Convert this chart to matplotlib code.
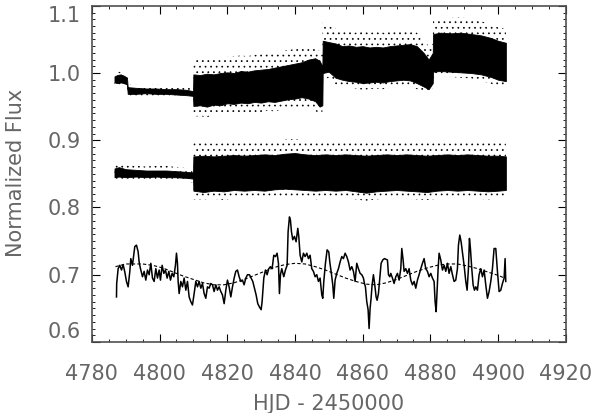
import numpy as np
import matplotlib
matplotlib.use("Agg")
import matplotlib.pyplot as plt
from matplotlib.ticker import MultipleLocator

# upper light curve (flux ~1.0): envelope of the dense point cloud
top_x = [4786.7, 4787.5, 4788.5, 4789.5, 4790.4, 4790.6, 4793, 4796, 4799, 4802,
         4805, 4808, 4809.9, 4810.0, 4812, 4814, 4816, 4818, 4820, 4822, 4824,
         4826, 4828, 4830, 4832, 4834, 4836, 4838, 4840, 4842, 4844, 4846,
         4847.3, 4848.1, 4848.2, 4850, 4852, 4854, 4856, 4858, 4860, 4862,
         4864, 4866, 4868, 4870, 4872, 4874, 4876, 4878, 4879.5, 4880.7,
         4880.8, 4883, 4886, 4889, 4892, 4895, 4898, 4900, 4902.3]
top_core_lo = [0.986, 0.985, 0.986, 0.985, 0.983, 0.969, 0.969, 0.970, 0.969, 0.969,
               0.968, 0.967, 0.966, 0.951, 0.952, 0.950, 0.953, 0.952, 0.955, 0.954, 0.956,
               0.955, 0.957, 0.956, 0.958, 0.957, 0.959, 0.961, 0.962, 0.964, 0.962, 0.958,
               0.950, 0.952, 1.000, 1.002, 0.993, 0.990, 0.988, 0.987, 0.985, 0.986,
               0.987, 0.986, 0.988, 0.989, 0.990, 0.989, 0.985, 0.980, 0.976, 0.985,
               1.002, 1.003, 1.002, 1.001, 1.000, 0.998, 0.994, 0.990, 0.988]
top_core_hi = [0.995, 0.997, 0.998, 0.996, 0.993, 0.979, 0.978, 0.977, 0.977, 0.976,
               0.976, 0.975, 0.973, 0.998, 0.997, 0.999, 0.998, 1.000, 1.001, 1.000, 1.003,
               1.002, 1.004, 1.005, 1.006, 1.008, 1.010, 1.012, 1.014, 1.016, 1.020, 1.022,
               1.018, 1.010, 1.048, 1.046, 1.044, 1.040, 1.041, 1.039, 1.040, 1.038,
               1.039, 1.038, 1.040, 1.041, 1.042, 1.043, 1.040, 1.030, 1.020, 1.030,
               1.058, 1.060, 1.059, 1.060, 1.058, 1.056, 1.052, 1.048, 1.045]
top_edge_lo = [0.981, 0.981, 0.982, 0.981, 0.979, 0.966, 0.965, 0.966, 0.964, 0.964,
               0.963, 0.962, 0.962, 0.935, 0.936, 0.934, 0.938, 0.937, 0.940, 0.939, 0.941,
               0.940, 0.942, 0.942, 0.944, 0.943, 0.945, 0.946, 0.948, 0.950, 0.948, 0.944,
               0.938, 0.940, 0.990, 0.993, 0.983, 0.980, 0.978, 0.977, 0.975, 0.976,
               0.977, 0.976, 0.978, 0.979, 0.980, 0.980, 0.976, 0.972, 0.970, 0.978,
               0.993, 0.995, 0.994, 0.993, 0.992, 0.988, 0.984, 0.980, 0.978]
top_edge_hi = [0.999, 1.001, 1.002, 1.000, 0.997, 0.984, 0.983, 0.982, 0.983, 0.982,
               0.982, 0.980, 0.978, 1.022, 1.021, 1.020, 1.022, 1.021, 1.024, 1.025, 1.026,
               1.025, 1.027, 1.028, 1.030, 1.031, 1.033, 1.034, 1.036, 1.037, 1.039, 1.040,
               1.032, 1.028, 1.075, 1.070, 1.066, 1.062, 1.063, 1.060, 1.062, 1.060,
               1.061, 1.060, 1.061, 1.062, 1.064, 1.065, 1.060, 1.050, 1.040, 1.045,
               1.078, 1.080, 1.082, 1.083, 1.080, 1.077, 1.072, 1.068, 1.066]

# middle light curve (flux ~0.85)
mid_x = [4786.7, 4788, 4790, 4793, 4796, 4799, 4802, 4805, 4808, 4809.9, 4810.0,
         4813, 4816, 4819, 4822, 4825, 4828, 4831, 4834, 4837, 4840, 4843, 4846,
         4849, 4852, 4855, 4858, 4861, 4864, 4867, 4870, 4873, 4876, 4879, 4882,
         4885, 4888, 4891, 4894, 4897, 4900, 4902.3]
mid_core_lo = [0.845, 0.846, 0.845, 0.846, 0.845, 0.846, 0.845, 0.845, 0.844, 0.843, 0.825,
               0.823, 0.825, 0.824, 0.826, 0.825, 0.826, 0.825, 0.827, 0.828, 0.827, 0.826, 0.825,
               0.826, 0.825, 0.826, 0.824, 0.822, 0.824, 0.825, 0.826, 0.825, 0.824, 0.823, 0.825,
               0.826, 0.825, 0.826, 0.825, 0.824, 0.825, 0.826]
mid_core_hi = [0.858, 0.860, 0.857, 0.856, 0.855, 0.855, 0.855, 0.854, 0.853, 0.852, 0.876,
               0.877, 0.876, 0.877, 0.878, 0.877, 0.878, 0.879, 0.878, 0.880, 0.881, 0.879, 0.878,
               0.879, 0.878, 0.879, 0.878, 0.877, 0.878, 0.879, 0.878, 0.879, 0.878, 0.877, 0.878,
               0.879, 0.878, 0.879, 0.878, 0.877, 0.877, 0.876]
mid_edge_lo = [0.838, 0.839, 0.838, 0.840, 0.839, 0.840, 0.839, 0.839, 0.838, 0.837, 0.812,
               0.812, 0.813, 0.811, 0.814, 0.813, 0.814, 0.813, 0.815, 0.816, 0.815, 0.814, 0.812,
               0.814, 0.813, 0.814, 0.812, 0.810, 0.812, 0.813, 0.814, 0.813, 0.812, 0.811, 0.813,
               0.814, 0.813, 0.814, 0.813, 0.812, 0.813, 0.814]
mid_edge_hi = [0.864, 0.866, 0.863, 0.862, 0.861, 0.862, 0.862, 0.860, 0.859, 0.857, 0.896,
               0.897, 0.895, 0.896, 0.898, 0.897, 0.899, 0.900, 0.899, 0.901, 0.902, 0.899, 0.898,
               0.900, 0.899, 0.898, 0.899, 0.898, 0.899, 0.900, 0.899, 0.898, 0.897, 0.898, 0.897,
               0.895, 0.896, 0.898, 0.897, 0.898, 0.897, 0.895]

# binned light curve (bottom)
lc_x = [4787.29, 4787.35, 4787.78, 4788.27, 4788.77, 4789.26, 4789.75, 4790.24, 4790.73,
        4791.23, 4791.52, 4792.01, 4792.70, 4793.20, 4793.69, 4793.98, 4794.38, 4794.97,
        4795.46, 4795.95, 4796.44, 4796.94, 4797.43, 4797.92, 4798.41, 4798.91, 4799.40,
        4799.89, 4800.28, 4800.78, 4801.27, 4801.76, 4802.25, 4802.75, 4803.24, 4803.73,
        4804.22, 4804.71, 4805.01, 4805.30, 4805.50, 4805.80, 4806.29, 4806.78, 4807.27,
        4807.77, 4808.26, 4808.75, 4809.24, 4809.73, 4810.23, 4810.72, 4811.21, 4811.70,
        4812.20, 4812.69, 4813.18, 4813.67, 4814.16, 4814.66, 4815.15, 4815.64, 4816.13,
        4816.63, 4817.12, 4817.61, 4818.10, 4818.59, 4819.09, 4819.58, 4820.07, 4820.56,
        4821.06, 4821.55, 4822.04, 4822.53, 4823.02, 4823.52, 4824.01, 4824.50, 4824.99,
        4825.49, 4825.98, 4826.56, 4827.05, 4827.55, 4828.04, 4828.53, 4829.02, 4829.52,
        4830.01, 4830.30, 4830.80, 4831.29, 4831.78, 4832.27, 4832.76, 4833.26, 4833.75,
        4834.24, 4834.73, 4835.13, 4835.42, 4835.72, 4836.11, 4836.70, 4837.19, 4837.69,
        4837.98, 4838.38, 4838.67, 4838.97, 4839.36, 4839.85, 4840.34, 4840.84, 4841.13,
        4841.53, 4842.02, 4842.51, 4843.00, 4843.50, 4843.99, 4844.48, 4844.97, 4845.46,
        4845.96, 4846.45, 4846.94, 4847.43, 4847.93, 4848.22, 4848.52, 4849.01, 4849.50,
        4849.99, 4850.29, 4850.68, 4851.17, 4851.47, 4851.86, 4852.35, 4852.85, 4853.34,
        4853.83, 4854.32, 4854.82, 4855.31, 4855.80, 4856.29, 4856.79, 4857.28, 4857.77,
        4858.26, 4858.75, 4859.25, 4859.74, 4860.23, 4860.53, 4860.82, 4861.21, 4861.61,
        4861.90, 4862.20, 4862.49, 4862.79, 4863.18, 4863.58, 4863.97, 4864.27, 4864.66,
        4865.05, 4865.45, 4865.94, 4866.43, 4867.32, 4867.62, 4868.01, 4868.31, 4868.80,
        4869.29, 4869.78, 4870.28, 4870.77, 4871.26, 4871.56, 4871.95, 4872.24, 4872.74,
        4873.23, 4873.72, 4874.21, 4874.71, 4875.20, 4875.69, 4876.18, 4876.67, 4877.17,
        4877.66, 4878.15, 4878.64, 4879.14, 4879.63, 4880.12, 4880.61, 4881.10, 4881.40,
        4881.70, 4881.99, 4882.29, 4882.58, 4883.07, 4883.57, 4884.06, 4884.55, 4885.04,
        4885.53, 4886.03, 4886.52, 4887.01, 4887.50, 4887.99, 4888.29, 4888.69, 4889.08,
        4889.47, 4889.96, 4890.46, 4890.85, 4891.24, 4891.54, 4891.83, 4892.23, 4892.62,
        4893.02, 4893.41, 4893.90, 4894.39, 4894.89, 4895.38, 4895.87, 4896.36, 4896.86,
        4897.35, 4897.84, 4898.33, 4898.82, 4899.32, 4899.81, 4900.30, 4900.79, 4901.29,
        4901.78, 4902.07, 4902.27]
lc_y = [0.667, 0.687, 0.709, 0.714, 0.707, 0.715, 0.704, 0.690, 0.682,
        0.705, 0.724, 0.714, 0.742, 0.744, 0.734, 0.719, 0.709, 0.697,
        0.705, 0.692, 0.707, 0.700, 0.717, 0.695, 0.690, 0.709, 0.695,
        0.707, 0.692, 0.714, 0.702, 0.707, 0.695, 0.705, 0.692, 0.702,
        0.697, 0.714, 0.732, 0.717, 0.690, 0.672, 0.690, 0.682, 0.695,
        0.677, 0.690, 0.667, 0.660, 0.655, 0.672, 0.690, 0.682, 0.690,
        0.680, 0.687, 0.672, 0.665, 0.682, 0.680, 0.687, 0.685, 0.675,
        0.685, 0.677, 0.682, 0.675, 0.670, 0.657, 0.677, 0.692, 0.682,
        0.667, 0.682, 0.695, 0.705, 0.707, 0.697, 0.690, 0.692, 0.685,
        0.695, 0.700, 0.700, 0.695, 0.690, 0.680, 0.670, 0.657, 0.652,
        0.648, 0.660, 0.695, 0.707, 0.700, 0.709, 0.712, 0.709, 0.729,
        0.727, 0.732, 0.717, 0.672, 0.700, 0.709, 0.697, 0.707, 0.714,
        0.764, 0.786, 0.781, 0.764, 0.752, 0.757, 0.749, 0.769, 0.757,
        0.729, 0.719, 0.732, 0.727, 0.732, 0.724, 0.729, 0.709, 0.705,
        0.697, 0.700, 0.690, 0.695, 0.670, 0.665, 0.690, 0.717, 0.737,
        0.734, 0.719, 0.705, 0.685, 0.665, 0.692, 0.702, 0.709, 0.719,
        0.727, 0.724, 0.732, 0.727, 0.719, 0.707, 0.712, 0.705, 0.690,
        0.717, 0.709, 0.702, 0.700, 0.695, 0.687, 0.682, 0.660, 0.648,
        0.620, 0.650, 0.665, 0.685, 0.700, 0.685, 0.667, 0.662, 0.672,
        0.695, 0.717, 0.722, 0.724, 0.722, 0.700, 0.697, 0.702, 0.695,
        0.687, 0.697, 0.702, 0.692, 0.709, 0.739, 0.722, 0.705, 0.709,
        0.702, 0.709, 0.692, 0.685, 0.690, 0.680, 0.692, 0.700, 0.709,
        0.717, 0.724, 0.709, 0.705, 0.697, 0.702, 0.695, 0.690, 0.660,
        0.645, 0.675, 0.709, 0.732, 0.722, 0.707, 0.714, 0.705, 0.717,
        0.702, 0.712, 0.700, 0.690, 0.692, 0.709, 0.744, 0.759, 0.749,
        0.734, 0.714, 0.690, 0.677, 0.709, 0.754, 0.739, 0.709, 0.685,
        0.677, 0.682, 0.677, 0.700, 0.709, 0.697, 0.707, 0.685, 0.665,
        0.675, 0.690, 0.709, 0.739, 0.739, 0.705, 0.675, 0.677, 0.687,
        0.695, 0.724, 0.690]

# sinusoidal fit drawn over the binned curve
fit_x = [4787, 4790, 4795, 4798, 4801, 4804, 4807, 4810, 4813, 4816, 4819, 4822,
         4825, 4828, 4831, 4834, 4837, 4840, 4843, 4846, 4849, 4852, 4855, 4858,
         4861, 4864, 4867, 4870, 4873, 4876, 4879, 4882, 4885, 4888, 4891, 4894,
         4897, 4900, 4902]
fit_y = [0.712, 0.716, 0.716, 0.714, 0.710, 0.704, 0.698, 0.693, 0.688, 0.685, 0.685, 0.688,
         0.693, 0.699, 0.705, 0.711, 0.715, 0.717, 0.716, 0.712, 0.707, 0.701, 0.695, 0.690,
         0.686, 0.685, 0.688, 0.693, 0.699, 0.705, 0.710, 0.714, 0.716, 0.716, 0.713, 0.709,
         0.704, 0.699, 0.695]

y_ticks = [0.6, 0.7, 0.8, 0.9, 1.0, 1.1]
x_ticks = [4780, 4800, 4820, 4840, 4860, 4880, 4900, 4920]

txt_color = "#666666"
plt.rcParams["font.family"] = ["DejaVu Sans"]
plt.rcParams["hatch.linewidth"] = 0.5

fig = plt.figure(figsize=(6, 4.13), dpi=100)
ax = fig.add_axes([0.153, 0.172, 0.79, 0.814])

# the point clouds: sparse outer scatter, then the dense core
for xs, elo, ehi, clo, chi in [(top_x, top_edge_lo, top_edge_hi, top_core_lo, top_core_hi),
                               (mid_x, mid_edge_lo, mid_edge_hi, mid_core_lo, mid_core_hi)]:
    ax.fill_between(xs, elo, ehi, facecolor="none", edgecolor="k", hatch="...", lw=0)
    ax.fill_between(xs, clo, chi, color="k", lw=0.6)

ax.plot(lc_x, lc_y, color="k", lw=1.1)
ax.plot(fit_x, fit_y, color="k", lw=0.8, ls=(0, (3, 2)))

ax.set_xlim(4780, 4920)
ax.set_ylim(0.6, 1.1)
ax.set_xticks(x_ticks)
ax.set_yticks(y_ticks, ["%.1f" % v for v in y_ticks])
ax.xaxis.set_minor_locator(MultipleLocator(5))
ax.yaxis.set_minor_locator(MultipleLocator(0.01))
ax.tick_params(which="both", direction="in", top=True, right=True, color="k")
ax.tick_params(which="major", length=6, width=0.8)
ax.tick_params(which="minor", length=2.5, width=0.6)
ax.tick_params(axis="x", pad=16, labelsize=15, labelcolor=txt_color)
ax.tick_params(axis="y", pad=8, labelsize=15, labelcolor=txt_color)
for sp in ax.spines.values():
    sp.set_color("#505050")
    sp.set_linewidth(1.2)

# end labels sit inside the axis range, as in the original
yt = ax.yaxis.get_major_ticks()
yt[0].label1.set_verticalalignment("bottom")
yt[-1].label1.set_verticalalignment("top")

fig.text(16 / 600, 1 - 173 / 413, "Normalized Flux", rotation=90, ha="center", va="center",
         fontsize=15, color=txt_color)
fig.text(329 / 600, 1 - 404 / 413, "HJD - 2450000", ha="center", va="center",
         fontsize=15, color=txt_color)

fig.savefig("out.png", dpi=100)
